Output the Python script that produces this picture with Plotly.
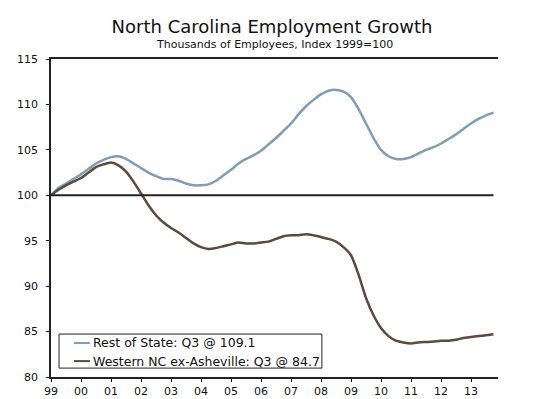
import plotly.graph_objects as go

# Quarterly index values, 1999 = 100
quarters = [1999 + i / 4 for i in range(60)]

rest_of_state = [
    100.0, 100.8, 101.3, 101.8, 102.3, 102.9, 103.5, 103.9,
    104.2, 104.3, 104.0, 103.5, 103.0, 102.5, 102.1, 101.8,
    101.8, 101.6, 101.3, 101.1, 101.1, 101.2, 101.6, 102.2,
    102.8, 103.5, 104.0, 104.4, 104.9, 105.6, 106.3, 107.1,
    107.9, 108.9, 109.8, 110.5, 111.1, 111.5, 111.6, 111.4,
    110.8, 109.5, 107.9, 106.3, 105.0, 104.3, 104.0, 104.0,
    104.2, 104.6, 105.0, 105.3, 105.7, 106.2, 106.7, 107.3,
    107.9, 108.4, 108.8, 109.1,
]

western_nc = [
    100.0, 100.6, 101.1, 101.5, 101.9, 102.5, 103.1, 103.4,
    103.6, 103.3, 102.6, 101.5, 100.2, 98.9, 97.8, 97.0,
    96.4, 95.9, 95.3, 94.7, 94.3, 94.1, 94.2, 94.4,
    94.6, 94.8, 94.7, 94.7, 94.8, 94.9, 95.2, 95.5,
    95.6, 95.6, 95.7, 95.6, 95.4, 95.2, 94.9, 94.3,
    93.4, 91.3, 88.7, 86.8, 85.4, 84.5, 84.0, 83.8,
    83.7, 83.8, 83.85, 83.9, 84.0, 84.0, 84.1, 84.3,
    84.4, 84.5, 84.6, 84.7,
]

series_names = ["Rest of State", "Western NC ex-Asheville"]
series_colors = ["#7f9db4", "#5b4a3e"]

year_ticks = list(range(1999, 2014))
year_labels = [f"{y % 100:02d}" for y in year_ticks]
y_ticks = [80, 85, 90, 95, 100, 105, 110, 115]

FONT = "DejaVu Sans, Verdana, sans-serif"
X_RANGE = [1999, 2013.9]
Y_RANGE = [80, 115]

fig = go.Figure()
for name, values, color in zip(series_names, [rest_of_state, western_nc], series_colors):
    fig.add_trace(go.Scatter(
        x=quarters, y=values, mode="lines",
        name=f"{name}: Q3 @ {values[-1]}",
        line=dict(color=color, width=2.5, shape="spline", smoothing=0.6),
        showlegend=False,
    ))

# Baseline at the index value of 100
fig.add_shape(type="line", xref="x", yref="y",
              x0=quarters[0], x1=quarters[-1], y0=100, y1=100,
              line=dict(color="#222222", width=2), layer="above")

# Boxed key in the lower-left corner of the plot
fig.add_shape(type="rect", xref="paper", yref="paper",
              x0=0.018, x1=0.606, y0=0.028, y1=0.135,
              line=dict(color="#222222", width=1), fillcolor="white", layer="above")
key_rows = [0.107, 0.050]
for name, values, color, ky in zip(series_names, [rest_of_state, western_nc],
                                   series_colors, key_rows):
    fig.add_shape(type="line", xref="paper", yref="paper",
                  x0=0.0515, x1=0.0872, y0=ky, y1=ky,
                  line=dict(color=color, width=2), layer="above")
    fig.add_annotation(xref="paper", yref="paper", x=0.0885, y=ky,
                       xanchor="left", yanchor="middle", showarrow=False,
                       text=f"{name}: Q3 @ {values[-1]}",
                       font=dict(family=FONT, size=12.5, color="#111111"))

# Subtitle under the main heading
fig.add_annotation(xref="paper", yref="paper", x=0.5, y=1.047,
                   xanchor="center", yanchor="middle", showarrow=False,
                   text="Thousands of Employees, Index 1999=100",
                   font=dict(family=FONT, size=11, color="#111111"))

tick_font = dict(family=FONT, size=11, color="#111111")
tick_common = dict(ticklen=3, tickwidth=1.2, tickcolor="#111111",
                   showgrid=False, zeroline=False, automargin=False)

fig.update_layout(
    width=544, height=399,
    margin=dict(l=51, r=46, t=59, b=22, autoexpand=False),
    paper_bgcolor="white", plot_bgcolor="white",
    font=dict(family=FONT, color="#111111"),
    title=dict(
        text="North Carolina Employment Growth",
        x=0.5, xanchor="center", y=0.933, yanchor="middle",
        font=dict(family=FONT, size=18, color="#111111"),
        automargin=False,
    ),
    showlegend=False,
    xaxis=dict(
        range=X_RANGE, tickvals=year_ticks, ticktext=year_labels,
        ticks="outside", showline=True, linecolor="#222222", linewidth=2,
        mirror=True, tickfont=tick_font, **tick_common,
    ),
    xaxis2=dict(
        range=X_RANGE, tickvals=year_ticks, overlaying="x", side="bottom",
        anchor="y", ticks="inside", showticklabels=False, showline=False,
        **tick_common,
    ),
    yaxis=dict(
        range=Y_RANGE, tickvals=y_ticks, ticks="outside",
        showline=True, linecolor="#222222", linewidth=1.5,
        tickfont=tick_font, ticklabelstandoff=6, **tick_common,
    ),
    yaxis2=dict(
        range=Y_RANGE, tickvals=y_ticks, overlaying="y", side="right",
        anchor="x", ticks="outside", showline=True, linecolor="#222222",
        linewidth=1.5, tickfont=tick_font, ticklabelstandoff=4, **tick_common,
    ),
    yaxis3=dict(
        range=Y_RANGE, tickvals=y_ticks, overlaying="y", side="left",
        anchor="x", ticks="inside", showticklabels=False, showline=False,
        **tick_common,
    ),
    yaxis4=dict(
        range=Y_RANGE, tickvals=y_ticks, overlaying="y", side="right",
        anchor="x", ticks="inside", showticklabels=False, showline=False,
        **tick_common,
    ),
)

fig.write_html("out.html")
